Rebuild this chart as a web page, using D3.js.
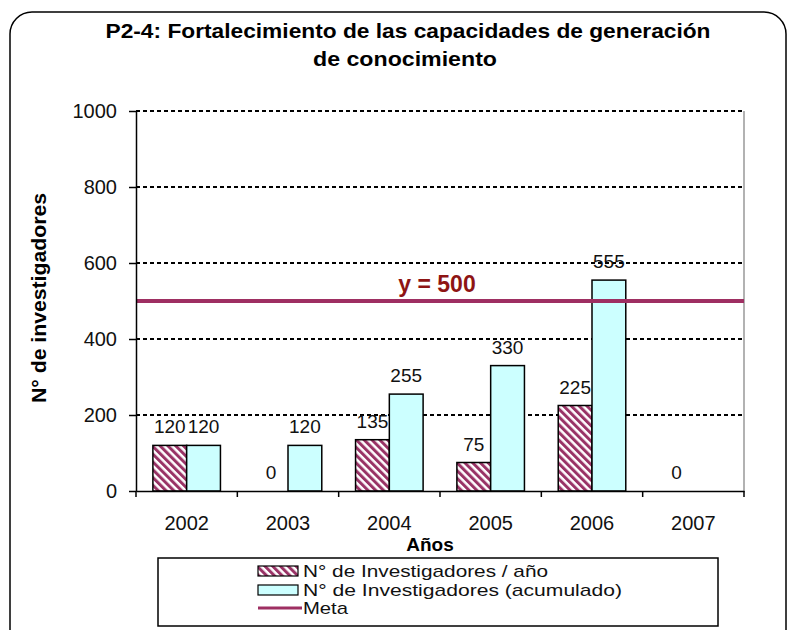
<!DOCTYPE html>
<html>
<head>
<meta charset="utf-8">
<script src="https://d3js.org/d3.v7.min.js"></script>
<style>
  body { margin: 0; background: #fff; }
  text { font-family: "Liberation Sans", Arial, sans-serif; }
</style>
</head>
<body>
<script>
const years = ['2002', '2003', '2004', '2005', '2006', '2007'];
const porAnio = [120, 0, 135, 75, 225, 0];
const acumulado = [120, 120, 255, 330, 555, null];
const meta = 500;
const yTicks = [0, 200, 400, 600, 800, 1000];
const seriesNames = ['N° de Investigadores / año', 'N° de Investigadores (acumulado)', 'Meta'];

const width = 792, height = 630;
const plot = { left: 136, right: 744, top: 111, bottom: 491 };

const svg = d3.select('body').append('svg')
  .attr('width', width)
  .attr('height', height);

const defs = svg.append('defs');
const pat = defs.append('pattern')
  .attr('id', 'hatch')
  .attr('patternUnits', 'userSpaceOnUse')
  .attr('width', 5.5)
  .attr('height', 5.5)
  .attr('patternTransform', 'rotate(-45)');
pat.append('rect').attr('width', 5.5).attr('height', 5.5).attr('fill', '#fff');
pat.append('rect').attr('width', 3).attr('height', 5.5).attr('fill', '#993366');

// outer frame
svg.append('rect')
  .attr('x', 10).attr('y', 12)
  .attr('width', 776).attr('height', 640)
  .attr('rx', 22)
  .attr('fill', 'none')
  .attr('stroke', '#000')
  .attr('stroke-width', 1.5);

// title
const title = svg.append('g').attr('font-weight', 'bold').attr('font-size', 21).attr('text-anchor', 'middle');
title.append('text').attr('x', 408).attr('y', 38)
  .attr('textLength', 605).attr('lengthAdjust', 'spacingAndGlyphs')
  .text('P2-4: Fortalecimiento de las capacidades de generación');
title.append('text').attr('x', 405).attr('y', 66)
  .attr('textLength', 184).attr('lengthAdjust', 'spacingAndGlyphs')
  .text('de conocimiento');

const y = d3.scaleLinear().domain([0, 1000]).range([plot.bottom, plot.top]);
const x0 = d3.scaleBand().domain(years).range([plot.left, plot.right]);
const x1 = d3.scaleBand().domain([0, 1]).range([0, x0.bandwidth()]).paddingOuter(0.5);

// gridlines
svg.append('g')
  .selectAll('line')
  .data(yTicks.slice(1))
  .enter()
  .append('line')
  .attr('x1', plot.left).attr('x2', plot.right)
  .attr('y1', d => y(d)).attr('y2', d => y(d))
  .attr('stroke', '#000')
  .attr('stroke-width', 2)
  .attr('stroke-dasharray', '4,3');

svg.append('line')
  .attr('x1', plot.right).attr('x2', plot.right)
  .attr('y1', plot.top).attr('y2', plot.bottom)
  .attr('stroke', '#999')
  .attr('stroke-width', 1.5);

// bars
const bars = svg.append('g');
years.forEach(function(yr, i) {
  [porAnio[i], acumulado[i]].forEach(function(v, s) {
    if (v === null || v === 0) return;
    bars.append('rect')
      .attr('x', x0(yr) + x1(s))
      .attr('y', y(v))
      .attr('width', x1.bandwidth())
      .attr('height', y(0) - y(v))
      .attr('fill', s === 0 ? 'url(#hatch)' : '#CCFFFF')
      .attr('stroke', '#000')
      .attr('stroke-width', 1.5);
  });
});

// meta line
svg.append('line')
  .attr('x1', plot.left).attr('x2', plot.right)
  .attr('y1', y(meta)).attr('y2', y(meta))
  .attr('stroke', '#9E2F62')
  .attr('stroke-width', 4);

svg.append('text')
  .attr('x', (plot.left + plot.right) / 2 - 3)
  .attr('y', y(meta) - 9)
  .attr('text-anchor', 'middle')
  .attr('font-size', 23)
  .attr('font-weight', 'bold')
  .attr('fill', '#8E1414')
  .text('y = ' + meta);

// value labels
const labels = svg.append('g').attr('font-size', 19).attr('text-anchor', 'middle').attr('fill', '#111');
years.forEach(function(yr, i) {
  [porAnio[i], acumulado[i]].forEach(function(v, s) {
    if (v === null) return;
    labels.append('text')
      .attr('x', x0(yr) + x1(s) + x1.bandwidth() / 2)
      .attr('y', y(v) - 12)
      .text(v);
  });
});

// y axis
const yAxis = svg.append('g')
  .attr('transform', `translate(${plot.left},0)`)
  .call(d3.axisLeft(y).tickValues(yTicks).tickFormat(d3.format('d')).tickSize(7).tickSizeOuter(0).tickPadding(12));
yAxis.select('.domain').attr('stroke', '#000').attr('stroke-width', 1.5);
yAxis.selectAll('.tick line').attr('stroke', '#000').attr('stroke-width', 1.5);
yAxis.selectAll('text').attr('font-size', 20).attr('font-family', '"Liberation Sans", Arial, sans-serif').attr('fill', '#111');

// x axis
const xAxis = svg.append('g')
  .attr('transform', `translate(0,${plot.bottom})`)
  .call(d3.axisBottom(x0).tickSize(0).tickPadding(25));
xAxis.select('.domain').attr('stroke', '#000').attr('stroke-width', 1.5);
xAxis.selectAll('text').attr('font-size', 20).attr('font-family', '"Liberation Sans", Arial, sans-serif').attr('fill', '#111');
xAxis.selectAll('.bound')
  .data(years.map(d => x0(d)).concat([plot.right]))
  .enter()
  .append('line')
  .attr('x1', d => d).attr('x2', d => d)
  .attr('y1', 0).attr('y2', 6)
  .attr('stroke', '#000')
  .attr('stroke-width', 1.5);

// axis titles
svg.append('text')
  .attr('transform', 'translate(46,298) rotate(-90)')
  .attr('text-anchor', 'middle')
  .attr('font-size', 20)
  .attr('font-weight', 'bold')
  .attr('textLength', 210).attr('lengthAdjust', 'spacingAndGlyphs')
  .text('N° de investigadores');

svg.append('text')
  .attr('x', 430).attr('y', 551)
  .attr('text-anchor', 'middle')
  .attr('font-size', 19)
  .attr('font-weight', 'bold')
  .text('Años');

// legend
const legend = svg.append('g');
legend.append('rect')
  .attr('x', 158).attr('y', 558)
  .attr('width', 560).attr('height', 68)
  .attr('fill', '#fff')
  .attr('stroke', '#000')
  .attr('stroke-width', 1.5);

const rowY = [571, 590, 608];
const legendWidths = [245, 319, 45];
seriesNames.forEach(function(name, i) {
  if (i < 2) {
    legend.append('rect')
      .attr('x', 258).attr('y', rowY[i] - 5)
      .attr('width', 40).attr('height', 10)
      .attr('fill', i === 0 ? 'url(#hatch)' : '#CCFFFF')
      .attr('stroke', '#000')
      .attr('stroke-width', 1.2);
  } else {
    legend.append('line')
      .attr('x1', 258).attr('x2', 302)
      .attr('y1', rowY[i]).attr('y2', rowY[i])
      .attr('stroke', '#9E2F62')
      .attr('stroke-width', 3);
  }
  legend.append('text')
    .attr('x', 303).attr('y', rowY[i] + 6)
    .attr('font-size', 17)
    .attr('fill', '#111')
    .attr('textLength', legendWidths[i]).attr('lengthAdjust', 'spacingAndGlyphs')
    .text(name);
});
</script>
</body>
</html>
